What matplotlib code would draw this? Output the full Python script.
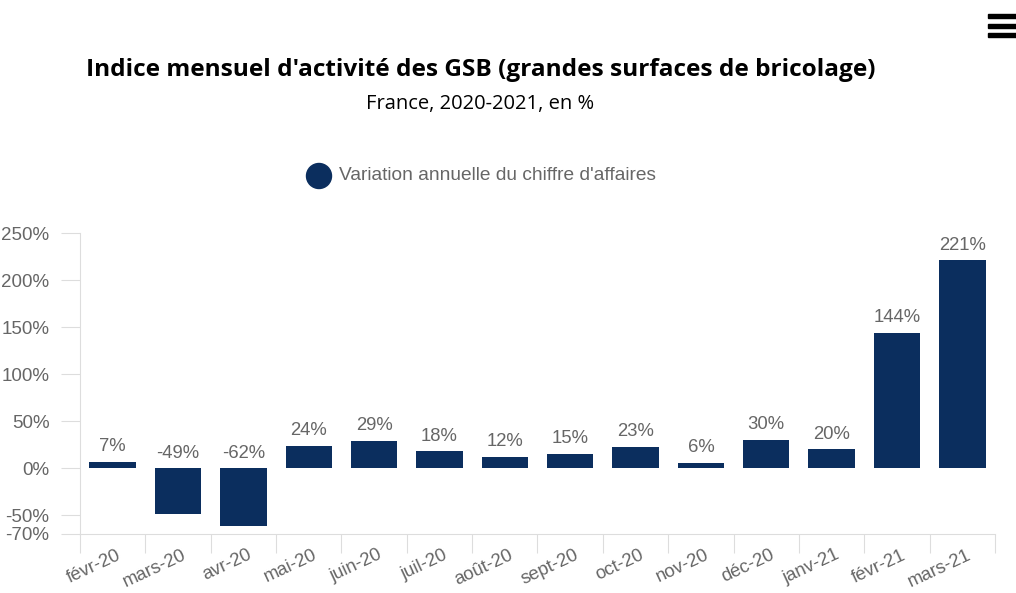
import matplotlib.pyplot as plt
import numpy as np
from matplotlib.patches import Rectangle, Ellipse

months = ['févr-20', 'mars-20', 'avr-20', 'mai-20', 'juin-20', 'juil-20', 'août-20',
          'sept-20', 'oct-20', 'nov-20', 'déc-20', 'janv-21', 'févr-21', 'mars-21']
variation = [7, -49, -62, 24, 29, 18, 12, 15, 23, 6, 30, 20, 144, 221]
yticks = [-70, -50, 0, 50, 100, 150, 200, 250]

bar_color = '#0b2e5e'
txt_gray = '#666666'
line_gray = '#dddddd'

plt.rcParams['font.family'] = ['Liberation Sans', 'DejaVu Sans']

fig = plt.figure(figsize=(10.16, 5.93), dpi=100)
ax = fig.add_axes([80/1016, 1-534/593, (995-80)/1016, (534-233)/593])

x = np.arange(len(months))
ax.bar(x, variation, width=0.71, color=bar_color, zorder=3)
for xi, v in zip(x, variation):  # étiquettes au-dessus des barres (ou du zéro)
    ax.text(xi, max(v, 0) + 7, f'{v}%', ha='center', va='bottom', color=txt_gray, fontsize=13.3)

ax.set_xlim(-0.5, len(months) - 0.5)
ax.set_ylim(-70, 250)

ax.set_yticks(yticks)
ax.set_yticklabels([f'{t}%' for t in yticks], color=txt_gray, fontsize=13.5)
ax.tick_params(axis='y', length=14, color=line_gray, pad=8)

ax.set_xticks(np.arange(len(months) + 1) - 0.5)
ax.set_xticklabels([])
ax.tick_params(axis='x', which='major', length=14, color=line_gray)
ax.set_xticks(x + 0.06, minor=True)
ax.set_xticklabels(months, minor=True, rotation=25, ha='right', rotation_mode='anchor',
                   color=txt_gray, fontsize=13.3)
ax.tick_params(axis='x', which='minor', length=0, pad=9)

for s in ['top', 'right']:
    ax.spines[s].set_visible(False)
ax.spines['left'].set_color(line_gray)
ax.spines['bottom'].set_color(line_gray)

# titre et sous-titre
fig.text(481/1016, 1-70/593, "Indice mensuel d'activité des GSB (grandes surfaces de bricolage)",
         ha='center', va='center', fontsize=17.6, fontweight='bold', family=['Open Sans', 'DejaVu Sans'])
fig.text(480/1016, 1-104/593, 'France, 2020-2021, en %', ha='center', va='center',
         fontsize=14.5, family=['Open Sans', 'DejaVu Sans'])

# légende
fig.patches.append(Ellipse((319/1016, 1-176/593), 25/1016, 25/593, transform=fig.transFigure,
                           color=bar_color))
fig.text(339/1016, 1-176/593, "Variation annuelle du chiffre d'affaires", ha='left',
         va='center', color=txt_gray, fontsize=13.8)

# icône menu
for yy in [16, 26, 35]:
    fig.patches.append(Rectangle((988/1016, 1-(yy+2)/593), 28/1016, 4/593,
                                 transform=fig.transFigure, color='black'))

fig.savefig('out.png', dpi=100)
